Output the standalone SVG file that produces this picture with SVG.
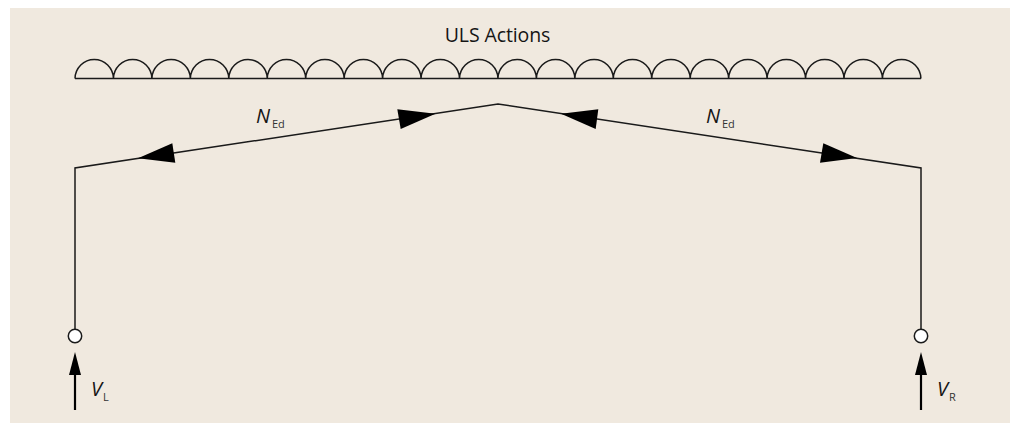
<svg xmlns="http://www.w3.org/2000/svg" width="1010" height="423" viewBox="0 0 1010 423">
<style>
.l{fill:none;stroke:#1a1a1a;stroke-width:1.5}
.f{fill:none;stroke:#000;stroke-width:2.2}
.c{fill:#fff;stroke:#1a1a1a;stroke-width:1.5}
.h{fill:#000;stroke:none}
.t{font-family:"Open Sans","Noto Sans",sans-serif;fill:#151515}
.i{font-style:italic;font-size:20px}
.s{font-size:11px;fill:#333}
</style>
<rect x="10" y="8" width="1000" height="415" fill="#f0e9df"/>
<g id="load">
<path class="l" d="M75 78.500H921M75 78.500a19.230 19.500 0 0 1 38.450 0a19.230 19.500 0 0 1 38.450 0a19.230 19.500 0 0 1 38.450 0a19.230 19.500 0 0 1 38.450 0a19.230 19.500 0 0 1 38.450 0a19.230 19.500 0 0 1 38.450 0a19.230 19.500 0 0 1 38.450 0a19.230 19.500 0 0 1 38.450 0a19.230 19.500 0 0 1 38.450 0a19.230 19.500 0 0 1 38.450 0a19.230 19.500 0 0 1 38.450 0a19.230 19.500 0 0 1 38.450 0a19.230 19.500 0 0 1 38.450 0a19.230 19.500 0 0 1 38.450 0a19.230 19.500 0 0 1 38.450 0a19.230 19.500 0 0 1 38.450 0a19.230 19.500 0 0 1 38.450 0a19.230 19.500 0 0 1 38.450 0a19.230 19.500 0 0 1 38.450 0a19.230 19.500 0 0 1 38.450 0a19.230 19.500 0 0 1 38.450 0a19.230 19.500 0 0 1 38.450 0"/>
<text class="t" x="497.500" y="41.500" font-size="19.500" letter-spacing="-0.1" text-anchor="middle">ULS Actions</text>
</g>
<g id="connectors">
<path class="l" d="M75 330V168L498 104L921 168V330"/>
<path class="h" d="M138 158.300L172.300 143.300L175.300 162.700Z"/>
<path class="h" d="M435.500 113.800L397.300 109.300L400.700 129Z"/>
<path class="h" d="M561 113.800L598.300 109.300L595.700 129Z"/>
<path class="h" d="M857 158L823.300 143.300L820 162.700Z"/>
<path class="f" d="M75 410V372"/>
<path class="h" d="M75 352L69 375H81Z"/>
<path class="f" d="M921 410V372"/>
<path class="h" d="M921 352L915 375H927Z"/>
</g>
<g id="support-left"><circle class="c" cx="75" cy="336" r="6.700"/></g>
<g id="support-right"><circle class="c" cx="921" cy="336" r="6.700"/></g>
<g id="labels">
<text class="t i" x="256" y="123">N</text><text class="t s" x="272" y="128">Ed</text>
<text class="t i" x="706" y="123">N</text><text class="t s" x="722" y="128">Ed</text>
<text class="t i" x="91" y="396">V</text><text class="t s" x="103" y="401">L</text>
<text class="t i" x="937" y="396">V</text><text class="t s" x="949" y="401">R</text>
</g>
</svg>
